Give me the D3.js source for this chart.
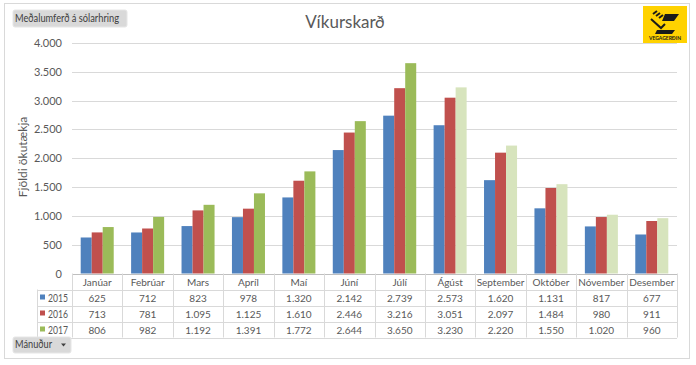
<!DOCTYPE html>
<html><head><meta charset="utf-8">
<script src="https://cdn.jsdelivr.net/npm/d3@7"></script>
<style>
html,body{margin:0;padding:0;background:#fff;}
svg{display:block;font-family:Lato,"Open Sans",sans-serif;}
</style></head>
<body>
<svg id="c" width="696" height="365"></svg>
<script>
const months = ["Janúar","Febrúar","Mars","Apríl","Maí","Júní","Júlí","Ágúst","September","Október","Nóvember","Desember"];
const years = ["2015","2016","2017"];
const v2015 = [625,712,823,978,1320,2142,2739,2573,1620,1131,817,677];
const v2016 = [713,781,1095,1125,1610,2446,3216,3051,2097,1484,980,911];
const v2017 = [806,982,1192,1391,1772,2644,3650,3230,2220,1550,1020,960];
const yTicks = [0,500,1000,1500,2000,2500,3000,3500,4000];
const series = [v2015, v2016, v2017];
const colors = ["#4f81bd","#c0504d","#9bbb59"];
const partialColor = "#d7e4bd"; // 2017 months not yet complete
const partialFrom = 7;

const fmt = d3.formatLocale({decimal:",",thousands:".",grouping:[3],currency:["",""]}).format(",d");

const svg = d3.select("#c");
const L = 72, R = 677, T = 43, B = 273.5;

// outer border
svg.append("rect").attr("x",4.5).attr("y",3.5).attr("width",685).attr("height",355)
  .attr("fill","#fff").attr("stroke","#d9d9d9");

const x = d3.scaleBand().domain(months).range([L,R]);
const xi = d3.scaleBand().domain(years).range([0,x.bandwidth()]).paddingInner(0).paddingOuter(0.79);
const y = d3.scaleLinear().domain([0,4000]).range([B,T]);

// gridlines
svg.append("g").selectAll("line").data(yTicks.slice(1)).join("line")
  .attr("x1",L).attr("x2",R).attr("y1",d=>Math.round(y(d))+0.5).attr("y2",d=>Math.round(y(d))+0.5)
  .attr("stroke","#d9d9d9").attr("stroke-width",1);

// y axis labels
const yAxis = d3.axisLeft(y).tickValues(yTicks).tickSize(0).tickPadding(10).tickFormat(d=>fmt(d));
const ya = svg.append("g").attr("transform",`translate(${L},0)`).call(yAxis);
ya.select(".domain").remove();
ya.selectAll("text").attr("font-size",11).attr("fill","#595959").attr("font-family","Lato,'Open Sans',sans-serif");

// bars
series.forEach((s,si)=>{
  svg.append("g").selectAll("rect").data(s).join("rect")
    .attr("x",(d,i)=>x(months[i])+xi(years[si]))
    .attr("width",xi.bandwidth())
    .attr("y",d=>y(d))
    .attr("height",d=>y(0)-y(d))
    .attr("fill",(d,i)=> (si===2 && i>=partialFrom) ? partialColor : colors[si]);
});

// data table
const rowH = 16;
const tTop = B;
const legL = 37;
const tg = svg.append("g");
months.forEach((m,i)=>{
  tg.append("text").attr("x",x(m)+x.bandwidth()/2).attr("y",tTop+12)
    .attr("text-anchor","middle").attr("font-size",10).attr("fill","#595959").text(m);
});
series.forEach((s,si)=>{
  const ry = tTop + rowH*(si+1);
  tg.append("rect").attr("x",40).attr("y",ry+5).attr("width",5).attr("height",5).attr("fill",colors[si]);
  tg.append("text").attr("x",48).attr("y",ry+12).attr("font-size",10.5).attr("fill","#595959")
    .attr("textLength",20).attr("lengthAdjust","spacingAndGlyphs").text(years[si]);
  s.forEach((v,i)=>{
    tg.append("text").attr("x",x(months[i])+x.bandwidth()/2).attr("y",ry+12)
      .attr("text-anchor","middle").attr("font-size",10).attr("fill","#595959").text(fmt(v));
  });
});
const gridC = "#d9d9d9";
[0,1,2,3,4].forEach(k=>{
  const yy = Math.round(tTop + rowH*k)+0.5;
  tg.append("line").attr("x1",k===0?L:legL).attr("x2",R).attr("y1",yy).attr("y2",yy)
    .attr("stroke",k===0?"#bfbfbf":gridC);
});
months.concat(["_end"]).forEach((m,i)=>{
  const xx = Math.round(i<12 ? x(m) : R)+0.5;
  tg.append("line").attr("x1",xx).attr("x2",xx).attr("y1",tTop).attr("y2",tTop+rowH*4).attr("stroke",gridC);
});
tg.append("line").attr("x1",legL+0.5).attr("x2",legL+0.5).attr("y1",tTop+rowH).attr("y2",tTop+rowH*4).attr("stroke",gridC);

// title
svg.append("text").attr("x",345).attr("y",28).attr("text-anchor","middle")
  .attr("font-size",17).attr("fill","#595959").text("Víkurskarð");

// y axis title
svg.append("text").attr("transform","translate(27,157) rotate(-90)").attr("text-anchor","middle")
  .attr("font-size",12).attr("fill","#595959").text("Fjöldi ökutækja");

// field buttons
function button(x0,y0,w,h,label,tl,arrow){
  const g = svg.append("g");
  g.append("rect").attr("x",x0).attr("y",y0).attr("width",w).attr("height",h).attr("rx",2)
    .attr("fill","#d9d9d9").attr("stroke","#e6e6e6");
  g.append("text").attr("x",x0+2).attr("y",y0+h-5).attr("font-size",10.5).attr("fill","#404040")
    .attr("textLength",tl).attr("lengthAdjust","spacingAndGlyphs").text(label);
  if(arrow){
    g.append("path").attr("d",`M${x0+w-10},${y0+h/2-1.5} l5,0 l-2.5,3 z`).attr("fill","#404040");
  }
}
button(13,10,114,17,"Meðalumferð á sólarhring",104,false);
button(13,337,58,16,"Mánuður",37,true);

// logo
const lg = svg.append("g").attr("transform","translate(643,6)");
lg.append("rect").attr("width",44).attr("height",37).attr("fill","#ffd200");
lg.append("path").attr("d","M10,8 l4,-3 M13,10 l4,-3 M16,12 l4,-3 M8,13 l10,9 l4,-4").attr("stroke","#1a1a1a").attr("stroke-width",2).attr("fill","none");
lg.append("path").attr("d","M22,8 l14,0 l-5,7 l-12,0 z").attr("fill","#1a1a1a");
lg.append("path").attr("d","M14,24 l18,0 l-3,4 l-17,0 z").attr("fill","#1a1a1a");
lg.append("text").attr("x",22).attr("y",34).attr("text-anchor","middle").attr("font-size",5).attr("font-weight","bold")
  .attr("fill","#1a1a1a").text("VEGAGERÐIN");
</script>
</body></html>
